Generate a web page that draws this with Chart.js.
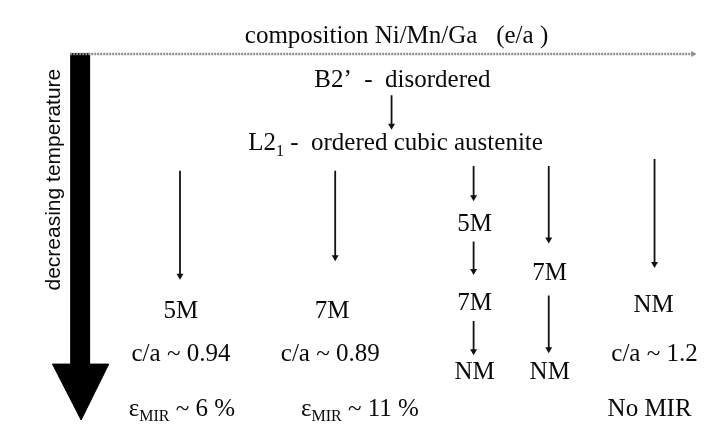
<!DOCTYPE html>
<html>
<head>
<meta charset="utf-8">
<script src="https://cdn.jsdelivr.net/npm/chart.js@4"></script>
<style>
  html, body { margin: 0; padding: 0; background: #fff; }
  canvas { display: block; }
</style>
</head>
<body>
<canvas id="phase-chart" width="705" height="425"></canvas>
<script>
// Phase sequences, one column per composition range (left = low e/a)
const columnX = [179, 332, 476, 552, 657];
const phases = [
  ["5M"],
  ["7M"],
  ["5M", "7M", "NM"],
  ["7M", "NM"],
  ["NM"],
];
const caRatio = ["c/a ~ 0.94", "c/a ~ 0.89", "", "", "c/a ~ 1.2"];
const mirStrain = ["~ 6 %", "~ 11 %", "", "", "No MIR"];

// arrows: [x, from y, to y]
const arrows = [
  [392, 93, 124],
  [178, 170, 277],
  [335, 170, 258],
  [475, 165, 197],
  [475, 242, 272],
  [475, 323, 354],
  [551, 165, 240],
  [551, 297, 352],
  [658, 158, 265],
];

// vertical position of each phase label
const phaseY = [
  [313],
  [313],
  [225, 305, 376],
  [275, 376],
  [307],
];

const SERIF = "'Liberation Serif', Tinos, 'Times New Roman', Times, 'DejaVu Serif', serif";
const SANS = "'Liberation Sans', Arimo, Arial, sans-serif";
const FS = 25;

const datasets = [];

// composition axis (grey, with small head)
datasets.push({
  data: [{ x: 67, y: 51 }, { x: 697, y: 51 }],
  showLine: true,
  borderColor: "#8f8f8f",
  borderWidth: 2.5,
  borderDash: [2, 1],
  pointRadius: [0, 3.5],
  pointStyle: "triangle",
  rotation: 90,
  pointBackgroundColor: "#8f8f8f",
  pointBorderWidth: 0,
});

// big temperature arrow: shaft
datasets.push({
  data: [{ x: 77, y: 50 }, { x: 77, y: 368 }],
  showLine: true,
  borderColor: "#000",
  borderWidth: 20,
  borderCapStyle: "butt",
  pointRadius: 0,
});
// big temperature arrow: head
datasets.push({
  data: [{ x: 49, y: 367 }, { x: 78, y: 424 }, { x: 106, y: 367 }, { x: 49, y: 367 }],
  showLine: true,
  borderColor: "#000",
  borderWidth: 1,
  backgroundColor: "#000",
  fill: "shape",
  pointRadius: 0,
});

arrows.forEach(([x, y0, y1]) => {
  datasets.push({
    data: [{ x: x, y: y0 }, { x: x, y: y1 }],
    showLine: true,
    borderColor: "#111",
    borderWidth: 1.8,
    pointRadius: [0, 4],
    pointStyle: "triangle",
    rotation: 180,
    pointBackgroundColor: "#111",
    pointBorderWidth: 0,
  });
});

// draws text with subscript parts; align 'center' or 'left'
function drawSub(ctx, x, y, parts, size, align) {
  const big = size + "px " + SERIF;
  const small = Math.round(size * 0.62) + "px " + SERIF;
  let w = 0;
  parts.forEach(([t, sub]) => {
    ctx.font = sub ? small : big;
    w += ctx.measureText(t).width;
  });
  let cx = align === "left" ? x : x - w / 2;
  ctx.textAlign = "left";
  parts.forEach(([t, sub]) => {
    ctx.font = sub ? small : big;
    ctx.fillText(t, cx, sub ? y + size * 0.32 : y);
    cx += ctx.measureText(t).width;
  });
}

const labels = {
  id: "labels",
  afterDatasetsDraw(chart) {
    const ctx = chart.ctx;
    const sx = chart.scales.x, sy = chart.scales.y;
    const px = (v) => sx.getPixelForValue(v);
    const py = (v) => sy.getPixelForValue(v);
    ctx.save();
    ctx.fillStyle = "#0a0a0a";
    ctx.textBaseline = "middle";
    ctx.textAlign = "center";

    ctx.font = FS + "px " + SERIF;
    ctx.fillText("composition Ni/Mn/Ga   (e/a )", px(397), py(33));
    ctx.fillText("B2\u2019  -  disordered", px(403), py(78));
    drawSub(ctx, px(247), py(142), [["L2", false], ["1", true], [" -  ordered cubic austenite", false]], FS, "left");

    const caX = [179, 330, 0, 0, 658];
    const strainX = [180, 360, 0, 0, 653];
    phases.forEach((list, i) => {
      list.forEach((p, j) => {
        ctx.textAlign = "center";
        ctx.font = FS + "px " + SERIF;
        ctx.fillText(p, px(columnX[i]), py(phaseY[i][j]));
      });
      if (caRatio[i]) {
        ctx.textAlign = "center";
        ctx.font = FS + "px " + SERIF;
        ctx.fillText(caRatio[i], px(caX[i]), py(357));
      }
      if (mirStrain[i]) {
        if (mirStrain[i].startsWith("~")) {
          drawSub(ctx, px(strainX[i]), py(413), [["\u03b5", false], ["MIR", true], [" " + mirStrain[i], false]], FS, "center");
        } else {
          ctx.textAlign = "center";
          ctx.font = FS + "px " + SERIF;
          ctx.fillText(mirStrain[i], px(strainX[i]), py(413));
        }
      }
    });

    // rotated axis label
    ctx.translate(px(51), py(179));
    ctx.rotate(-Math.PI / 2);
    ctx.textAlign = "center";
    ctx.font = "21px " + SANS;
    ctx.fillText("decreasing temperature", 0, 0);
    ctx.restore();
  },
};

new Chart(document.getElementById("phase-chart"), {
  type: "scatter",
  data: { datasets: datasets },
  options: {
    responsive: false,
    animation: false,
    layout: { padding: 0 },
    plugins: { legend: { display: false }, tooltip: { enabled: false } },
    scales: {
      x: { type: "linear", min: 0, max: 705, display: false },
      y: { type: "linear", min: 0, max: 425, reverse: true, display: false },
    },
  },
  plugins: [labels],
});
</script>
</body>
</html>
